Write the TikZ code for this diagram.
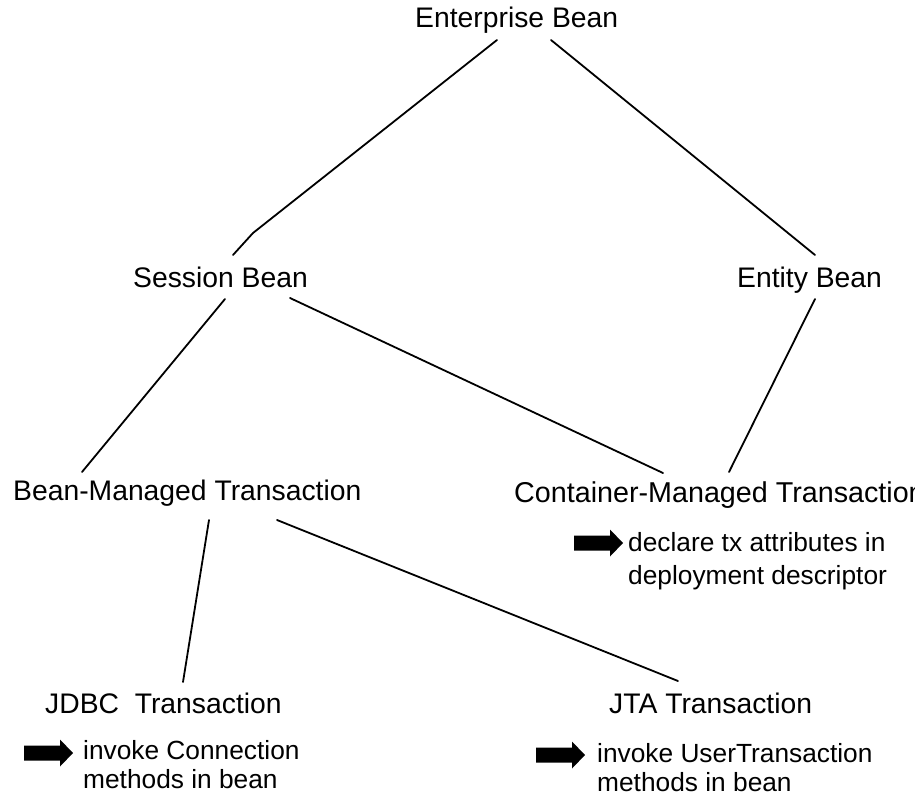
\documentclass[tikz,border=0pt]{standalone}
\usepackage{fontspec}
\setmainfont{Liberation Sans}
\begin{document}
\begin{tikzpicture}[x=1pt,y=-1pt,
  title/.style={anchor=base west,inner sep=0pt,font=\fontsize{28.3}{34}\selectfont},
  note/.style={anchor=base west,inner sep=0pt,font=\fontsize{26.3}{30}\selectfont},
  link/.style={line width=1.8pt,line cap=round,line join=round},
  blockarrow/.pic={\fill[black] (0,-7.5) -- (36,-7.5) -- (36,-13.5) -- (49,0) -- (36,13.5) -- (36,7.5) -- (0,7.5) -- cycle;}]
\clip (0,0) rectangle (915,800);
\fill[white] (0,0) rectangle (915,800);
% titles
\node[title] (eb) at (415,28) {Enterprise Bean};
\node[title] (sb) at (133,287) {Session Bean};
\node[title] (enb) at (737,287) {Entity Bean};
\node[title] (bmt) at (13,500) {Bean-Managed Transaction};
\node[title,font=\fontsize{28.7}{34}\selectfont] (cmt) at (514,502) {Container-Managed Transaction};
\node[title] (jdbc) at (45,713) {JDBC~~Transaction};
\node[title] (jta) at (609,713) {JTA Transaction};
% notes
\node[note] (cmt1) at (628,551) {declare tx attributes in};
\node[note] (cmt2) at (628,584) {deployment descriptor};
\node[note] (jdbc1) at (83,759) {invoke Connection};
\node[note] (jdbc2) at (83,788) {methods in bean};
\node[note] (jta1) at (597,762) {invoke UserTransaction};
\node[note] (jta2) at (597,791) {methods in bean};
% arrows
\pic at (574,543) {blockarrow};
\pic at (24,753) {blockarrow};
\pic at (536,755) {blockarrow};
% connector ends
\coordinate (eb-s) at (497,40);
\coordinate (kink) at (253,233);
\coordinate (sb-n) at (233,255);
\coordinate (eb-e) at (551,40);
\coordinate (enb-n) at (815,255);
\coordinate (sb-sw) at (225,299);
\coordinate (bmt-n) at (82,472);
\coordinate (sb-se) at (290,298);
\coordinate (cmt-nw) at (663,473);
\coordinate (enb-s) at (815,299);
\coordinate (cmt-ne) at (729,472);
\coordinate (bmt-s1) at (209,520);
\coordinate (jdbc-n) at (183,682);
\coordinate (bmt-s2) at (277,520);
\coordinate (jta-n) at (678,681);
% connectors
\draw[link] (eb-s) -- (kink) -- (sb-n);
\draw[link] (eb-e) -- (enb-n);
\draw[link] (sb-sw) -- (bmt-n);
\draw[link] (sb-se) -- (cmt-nw);
\draw[link] (enb-s) -- (cmt-ne);
\draw[link] (bmt-s1) -- (jdbc-n);
\draw[link] (bmt-s2) -- (jta-n);
\end{tikzpicture}
\end{document}
